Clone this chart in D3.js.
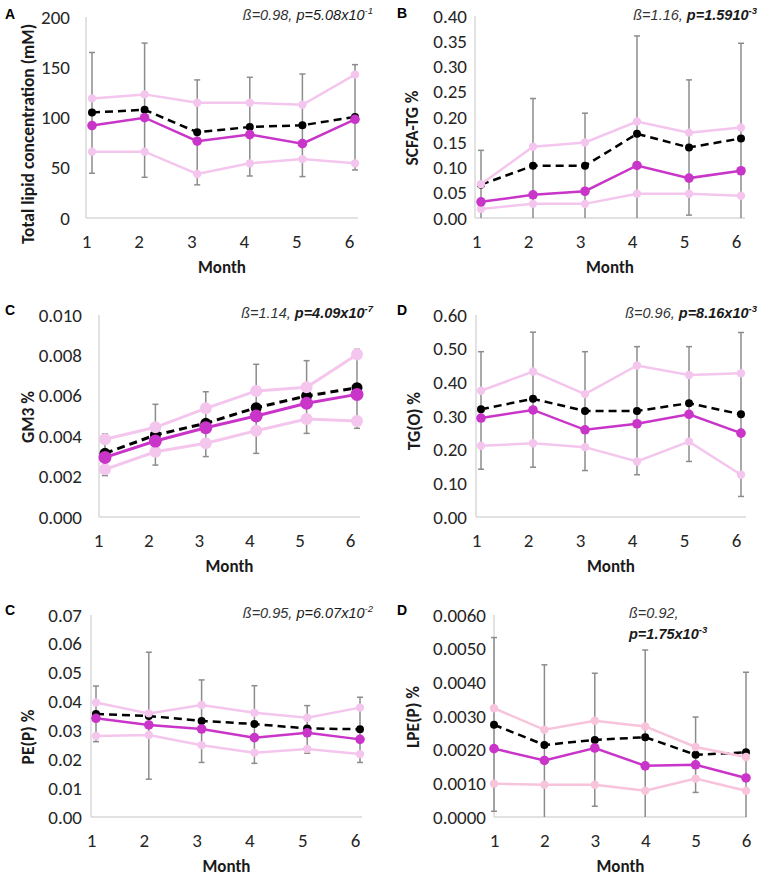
<!DOCTYPE html>
<html>
<head>
<meta charset="utf-8">
<script src="https://cdn.jsdelivr.net/npm/d3@7"></script>
<style>
  body { margin: 0; background: #fff; }
  svg { display: block; }
</style>
</head>
<body>
<div id="chart"></div>
<script>
const months = [1, 2, 3, 4, 5, 6]

// A - total lipid concentration (mM)
const lipidMean = [105, 107.7, 85.3, 90.6, 92.3, 100.5]
const lipidMid = [92, 99.8, 76.4, 83, 74, 98.2]
const lipidHigh = [119, 123, 114.7, 114.7, 112.7, 142.7]
const lipidLow = [66, 66, 43.8, 54.4, 58.6, 54.4]
const lipidErrUp = [164.7, 174, 137.4, 140, 143.3, 152.6]
const lipidErrDown = [44.5, 40.5, 33, 41.8, 41.2, 47.8]
const lipidTicks = [0, 50, 100, 150, 200]

// B - SCFA-TG %
const scfaMean = [0.066, 0.1035, 0.1035, 0.1667, 0.1397, 0.1575]
const scfaMid = [0.032, 0.046, 0.053, 0.104, 0.079, 0.0936]
const scfaHigh = [0.067, 0.141, 0.1496, 0.191, 0.169, 0.179]
const scfaLow = [0.018, 0.028, 0.028, 0.048, 0.048, 0.044]
const scfaErrUp = [0.134, 0.2366, 0.2076, 0.3605, 0.2735, 0.346]
const scfaErrDown = [0, 0, 0, 0, 0.0057, 0]
const scfaTicks = [0, 0.05, 0.10, 0.15, 0.20, 0.25, 0.30, 0.35, 0.40]

// C - GM3 %
const gm3Mean = [0.00315, 0.00406, 0.00464, 0.00541, 0.00599, 0.0064]
const gm3Mid = [0.00295, 0.00376, 0.00442, 0.0050, 0.00563, 0.00607]
const gm3High = [0.00385, 0.00444, 0.00538, 0.00624, 0.00642, 0.00805]
const gm3Low = [0.00236, 0.00323, 0.00365, 0.00427, 0.00485, 0.00475]
const gm3ErrUp = [0.00411, 0.00558, 0.0062, 0.00756, 0.00774, 0.0083]
const gm3ErrDown = [0.00205, 0.00257, 0.00299, 0.00315, 0.00414, 0.00439]
const gm3Ticks = [0, 0.002, 0.004, 0.006, 0.008, 0.010]

// D - TG(O) %
const tgoMean = [0.320, 0.351, 0.315, 0.315, 0.338, 0.305]
const tgoMid = [0.294, 0.318, 0.259, 0.277, 0.305, 0.249]
const tgoHigh = [0.375, 0.432, 0.365, 0.450, 0.422, 0.427]
const tgoLow = [0.2115, 0.219, 0.2075, 0.165, 0.224, 0.1255]
const tgoErrUp = [0.491, 0.549, 0.491, 0.506, 0.506, 0.548]
const tgoErrDown = [0.142, 0.148, 0.138, 0.1255, 0.165, 0.061]
const tgoTicks = [0, 0.10, 0.20, 0.30, 0.40, 0.50, 0.60]

// C (bottom) - PE(P) %
const pepMean = [0.0357, 0.0350, 0.0333, 0.0322, 0.0307, 0.0304]
const pepMid = [0.0342, 0.0319, 0.0305, 0.0275, 0.0292, 0.0269]
const pepHigh = [0.0397, 0.0359, 0.0388, 0.0361, 0.0344, 0.0379]
const pepLow = [0.0281, 0.0284, 0.0249, 0.0223, 0.0236, 0.0218]
const pepErrUp = [0.0454, 0.0571, 0.0475, 0.0455, 0.0386, 0.0415]
const pepErrDown = [0.0261, 0.0131, 0.0189, 0.0186, 0.0221, 0.0189]
const pepTicks = [0, 0.01, 0.02, 0.03, 0.04, 0.05, 0.06, 0.07]

// D (bottom) - LPE(P) %
const lpeMean = [0.00274, 0.00214, 0.00229, 0.00237, 0.00185, 0.00192]
const lpeMid = [0.00203, 0.00168, 0.00205, 0.00152, 0.00155, 0.00116]
const lpeHigh = [0.00323, 0.00259, 0.00286, 0.00269, 0.00208, 0.00178]
const lpeLow = [0.00099, 0.00096, 0.00096, 0.00078, 0.00114, 0.00078]
const lpeErrUp = [0.00533, 0.00452, 0.00427, 0.00496, 0.00297, 0.0043]
const lpeErrDown = [0.00017, 0, 0.00032, 0, 0.00073, 0]
const lpeTicks = [0, 0.001, 0.002, 0.003, 0.004, 0.005, 0.006]

const W = 767, H = 877
const tickFont = "Carlito, Lato, 'Open Sans', sans-serif"
const noteFont = "'Liberation Sans', Arial, sans-serif"
const magenta = '#c935c9'
const lilac = '#f4c6ee'
const errColor = '#8c8c8c'
const axisColor = '#d9d9d9'

// panels: data + where each one sits on the page
const panels = [
	{letter: 'A', title: 'Total lipid concentration (mM)', beta: 'ß=0.98, ', p: 'p=5.08x10', exp: '-1', bold: false,
	 mean: lipidMean, mid: lipidMid, high: lipidHigh, low: lipidLow, errUp: lipidErrUp, errDown: lipidErrDown,
	 ticks: lipidTicks, fmt: 'd', max: 200,
	 axisX: 86, axisEnd: 358, top: 17, bottom: 218, first: 92, last: 355, shift: -6, gap: 16,
	 titleX: 28, titleY: 134, letterX: 5, letterY: 19, noteX: 373, noteY: 20, monthY: 273},
	{letter: 'B', title: 'SCFA-TG %', beta: 'ß=1.16, ', p: 'p=1.5910', exp: '-3', bold: true,
	 mean: scfaMean, mid: scfaMid, high: scfaHigh, low: scfaLow, errUp: scfaErrUp, errDown: scfaErrDown,
	 ticks: scfaTicks, fmt: '.2f', max: 0.40,
	 axisX: 475, axisEnd: 745, top: 16, bottom: 218, first: 481, last: 741, shift: -5, gap: 8,
	 titleX: 412, titleY: 128, letterX: 397, letterY: 18, noteX: 757, noteY: 20, monthY: 273},
	{letter: 'C', title: 'GM3 %', beta: 'ß=1.14, ', p: 'p=4.09x10', exp: '-7', bold: true, big: true,
	 mean: gm3Mean, mid: gm3Mid, high: gm3High, low: gm3Low, errUp: gm3ErrUp, errDown: gm3ErrDown,
	 ticks: gm3Ticks, fmt: '.3f', max: 0.010,
	 axisX: 99, axisEnd: 360, top: 315, bottom: 517, first: 105, last: 357, shift: -7, gap: 17,
	 titleX: 28, titleY: 417, letterX: 5, letterY: 315, noteX: 373, noteY: 318, monthY: 572},
	{letter: 'D', title: 'TG(O) %', beta: 'ß=0.96, ', p: 'p=8.16x10', exp: '-3', bold: true,
	 mean: tgoMean, mid: tgoMid, high: tgoHigh, low: tgoLow, errUp: tgoErrUp, errDown: tgoErrDown,
	 ticks: tgoTicks, fmt: '.2f', max: 0.60,
	 axisX: 476, axisEnd: 746, top: 315, bottom: 517, first: 481, last: 741, shift: -5, gap: 9,
	 titleX: 414, titleY: 421, letterX: 397, letterY: 315, noteX: 757, noteY: 318, monthY: 572},
	{letter: 'C', title: 'PE(P) %', beta: 'ß=0.95, ', p: 'p=6.07x10', exp: '-2', bold: false,
	 mean: pepMean, mid: pepMid, high: pepHigh, low: pepLow, errUp: pepErrUp, errDown: pepErrDown,
	 ticks: pepTicks, fmt: '.2f', max: 0.07,
	 axisX: 91, axisEnd: 362, top: 615, bottom: 817, first: 96, last: 360, shift: -5, gap: 9,
	 titleX: 28, titleY: 737, letterX: 5, letterY: 615, noteX: 373, noteY: 618, monthY: 872},
	{letter: 'D', title: 'LPE(P) %', beta: 'ß=0.92,', p: 'p=1.75x10', exp: '-3', bold: true, twoLine: true,
	 mean: lpeMean, mid: lpeMid, high: lpeHigh, low: lpeLow, errUp: lpeErrUp, errDown: lpeErrDown,
	 ticks: lpeTicks, fmt: '.4f', max: 0.006, pink: '#f7c4dc',
	 axisX: 494, axisEnd: 747, top: 615, bottom: 817, first: 494, last: 746, shift: 0, gap: 8,
	 titleX: 413, titleY: 717, letterX: 397, letterY: 615, noteX: 629, noteY: 618, monthY: 872}
]

const svg = d3.select('#chart').append('svg')
	.attr('width', W)
	.attr('height', H)

svg.append('rect').attr('width', W).attr('height', H).attr('fill', '#fff')

function drawPanel(p) {
	let g = svg.append('g')
	let y = d3.scaleLinear().domain([0, p.max]).range([p.bottom, p.top])
	let x = d3.scaleLinear().domain([1, 6]).range([p.first, p.last])

	let pink = p.pink || lilac
	let lw = p.big ? 3 : 2.5
	let rPink = p.big ? 6 : 4.2
	let rMag = p.big ? 6.5 : 4.8
	let rBlack = p.big ? 5.5 : 4

	// axis lines
	g.append('line')
		.attr('x1', p.axisX).attr('x2', p.axisX)
		.attr('y1', y(p.max)).attr('y2', y(0))
		.attr('stroke', axisColor).attr('stroke-width', 1.5)
	g.append('line')
		.attr('x1', p.axisX).attr('x2', p.axisEnd)
		.attr('y1', y(0)).attr('y2', y(0))
		.attr('stroke', axisColor).attr('stroke-width', 1.5)

	// y ticks
	g.append('g')
		.attr('transform', `translate(${p.axisX},0)`)
		.call(d3.axisLeft(y).tickValues(p.ticks).tickFormat(d3.format(p.fmt)).tickSize(0).tickPadding(p.gap))
		.call(a => a.select('.domain').remove())
		.attr('font-family', tickFont)
		.attr('font-size', 19)
		.selectAll('text').attr('fill', '#262626')

	// x ticks
	g.append('g')
		.attr('transform', `translate(${p.shift},${p.bottom})`)
		.call(d3.axisBottom(x).tickValues(months).tickFormat(d3.format('d')).tickSize(0).tickPadding(17))
		.call(a => a.select('.domain').remove())
		.attr('font-family', tickFont)
		.attr('font-size', 19)
		.selectAll('text').attr('fill', '#262626')

	// titles
	g.append('text')
		.attr('transform', `translate(${p.titleX},${p.titleY}) rotate(-90)`)
		.attr('text-anchor', 'middle')
		.attr('dy', '0.35em')
		.attr('font-family', tickFont)
		.attr('font-weight', 'bold')
		.attr('font-size', 17.5)
		.attr('fill', '#1a1a1a')
		.text(p.title)

	g.append('text')
		.attr('x', (p.axisX + p.axisEnd) / 2)
		.attr('y', p.monthY)
		.attr('text-anchor', 'middle')
		.attr('font-family', tickFont)
		.attr('font-weight', 'bold')
		.attr('font-size', 17)
		.attr('fill', '#1a1a1a')
		.text('Month')

	g.append('text')
		.attr('x', p.letterX).attr('y', p.letterY)
		.attr('font-family', noteFont)
		.attr('font-weight', 'bold')
		.attr('font-size', 14)
		.text(p.letter)

	// beta / p annotation
	let w = p.bold ? 'bold' : 'normal'
	if (p.twoLine) {
		g.append('text')
			.attr('x', p.noteX).attr('y', p.noteY)
			.attr('font-family', noteFont).attr('font-style', 'italic').attr('font-size', 14.5)
			.attr('fill', '#333')
			.text(p.beta)
		let t2 = g.append('text')
			.attr('x', p.noteX).attr('y', p.noteY + 21)
			.attr('font-family', noteFont).attr('font-style', 'italic').attr('font-size', 14.5)
			.attr('font-weight', w).attr('fill', '#1a1a1a')
		t2.append('tspan').text(p.p)
		t2.append('tspan').attr('font-size', 9.5).attr('dy', -6).text(p.exp)
	} else {
		let t = g.append('text')
			.attr('x', p.noteX).attr('y', p.noteY)
			.attr('text-anchor', 'end')
			.attr('font-family', noteFont).attr('font-style', 'italic').attr('font-size', 14.5)
			.attr('fill', '#333')
		t.append('tspan').text(p.beta)
		t.append('tspan').attr('font-weight', w).attr('fill', '#1a1a1a').text(p.p)
		t.append('tspan').attr('font-weight', w).attr('fill', '#1a1a1a')
			.attr('font-size', 9.5).attr('dy', -6).text(p.exp)
	}

	// error bars on the mean series
	let eb = g.append('g').attr('stroke', errColor).attr('stroke-width', 1.5)
	months.forEach((m, i) => {
		let cx = x(m)
		eb.append('line').attr('x1', cx).attr('x2', cx)
			.attr('y1', y(p.errUp[i])).attr('y2', y(p.errDown[i]))
		eb.append('line').attr('x1', cx - 3).attr('x2', cx + 3)
			.attr('y1', y(p.errUp[i])).attr('y2', y(p.errUp[i]))
		if (p.errDown[i] > 0) {
			eb.append('line').attr('x1', cx - 3).attr('x2', cx + 3)
				.attr('y1', y(p.errDown[i])).attr('y2', y(p.errDown[i]))
		}
	})

	let line = d3.line().x(d => x(d[0])).y(d => y(d[1]))
	let series = [
		{vals: p.mean, color: '#000', r: rBlack, dash: '8,5'},
		{vals: p.low, color: pink, r: rPink},
		{vals: p.high, color: pink, r: rPink},
		{vals: p.mid, color: magenta, r: rMag}
	]
	for (let s of series) {
		let pts = months.map((m, i) => [m, s.vals[i]])
		g.append('path')
			.attr('d', line(pts))
			.attr('fill', 'none')
			.attr('stroke', s.color)
			.attr('stroke-width', lw)
			.attr('stroke-dasharray', s.dash || null)
		g.append('g').selectAll('circle')
			.data(pts)
			.enter().append('circle')
			.attr('cx', d => x(d[0]))
			.attr('cy', d => y(d[1]))
			.attr('r', s.r)
			.attr('fill', s.color)
	}
}

for (let p of panels) {
	drawPanel(p)
}
</script>
</body>
</html>
